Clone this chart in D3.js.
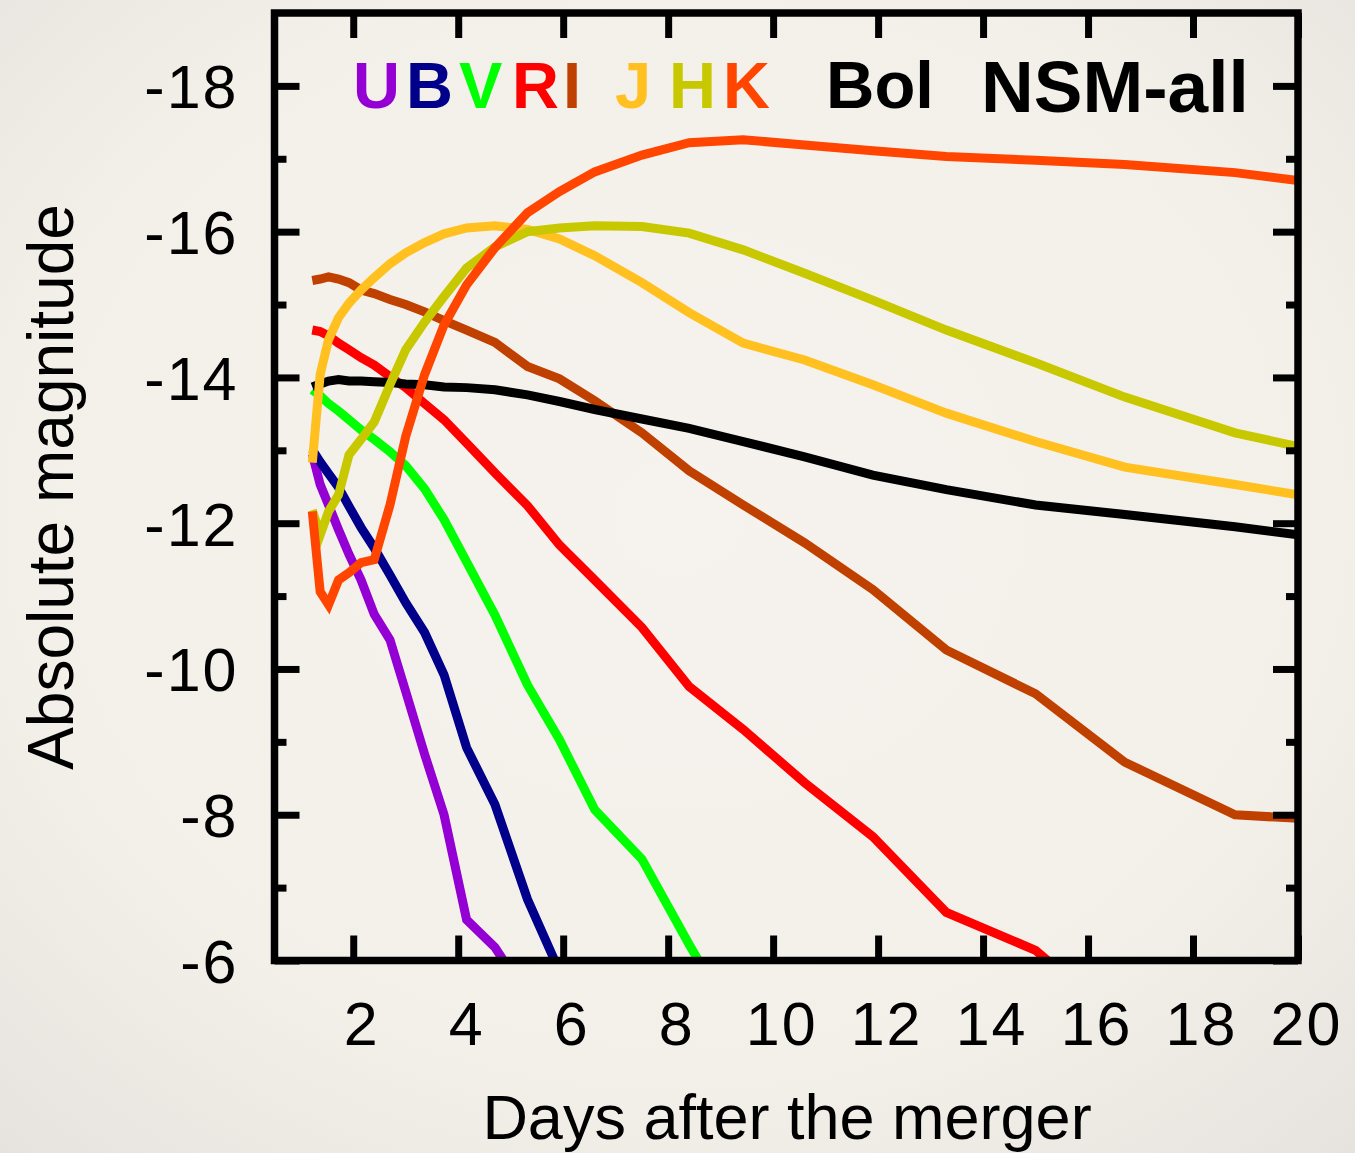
<!DOCTYPE html>
<html>
<head>
<meta charset="utf-8">
<script src="https://cdn.jsdelivr.net/npm/d3@7"></script>
<style>
  html, body { margin: 0; padding: 0; background: #f3f0ea; }
  svg { display: block; }
</style>
</head>
<body>
<svg id="chart" width="1355" height="1153"></svg>
<script>
// Epochs of the light-curve model (days after the merger)
const days = [1.22, 1.37, 1.53, 1.72, 1.92, 2.15, 2.4, 2.7, 3.0, 3.36, 3.73, 4.16, 4.7,
              5.32, 5.93, 6.6, 7.5, 8.4, 9.43, 10.6, 11.9, 13.3, 15.0, 16.7, 18.8, 20.0];

// Absolute magnitudes per band (one value per epoch, series stop once they fade out of range)
const magU = [-12.95, -12.53, -12.25, -11.91, -11.57, -11.22, -10.75, -10.40, -9.69, -8.83,
              -8.00, -6.56, -6.18, -5.50];
const magB = [-13.01, -12.84, -12.68, -12.49, -12.23, -11.94, -11.66, -11.29, -10.91, -10.50,
              -9.92, -8.92, -8.14, -6.84, -5.85];
const magV = [-13.83, -13.75, -13.64, -13.54, -13.42, -13.28, -13.15, -12.98, -12.79, -12.47,
              -12.05, -11.47, -10.74, -9.78, -9.03, -8.07, -7.39, -6.22, -4.95];
const magR = [-14.65, -14.63, -14.57, -14.47, -14.38, -14.27, -14.17, -14.01, -13.86, -13.64,
              -13.42, -13.10, -12.69, -12.24, -11.70, -11.22, -10.57, -9.76, -9.17, -8.44,
              -7.70, -6.66, -6.14, -5.10];
const magI = [-15.33, -15.35, -15.38, -15.35, -15.30, -15.20, -15.15, -15.07, -15.00, -14.90,
              -14.78, -14.65, -14.48, -14.15, -13.98, -13.68, -13.24, -12.72, -12.25, -11.73,
              -11.09, -10.26, -9.66, -8.72, -8.00, -7.95];
const magJ = [-12.83, -14.04, -14.52, -14.82, -15.02, -15.20, -15.37, -15.56, -15.71, -15.85,
              -15.97, -16.05, -16.08, -16.03, -15.90, -15.67, -15.30, -14.89, -14.47, -14.24,
              -13.90, -13.51, -13.12, -12.77, -12.53, -12.39];
const magH = [-12.18, -11.84, -12.16, -12.39, -12.94, -13.15, -13.39, -13.90, -14.38, -14.76,
              -15.11, -15.50, -15.79, -16.00, -16.05, -16.08, -16.07, -15.98, -15.75, -15.43,
              -15.06, -14.65, -14.20, -13.73, -13.24, -13.05];
const magK = [-12.16, -11.06, -10.88, -11.22, -11.32, -11.46, -11.50, -12.25, -13.19, -14.04,
              -14.72, -15.27, -15.78, -16.26, -16.55, -16.82, -17.05, -17.22, -17.26, -17.19,
              -17.11, -17.03, -16.98, -16.92, -16.81, -16.70];
const magBol = [-13.87, -13.91, -13.95, -13.97, -13.95, -13.95, -13.94, -13.93, -13.91, -13.90,
                -13.87, -13.86, -13.83, -13.76, -13.67, -13.56, -13.43, -13.30, -13.12, -12.91,
                -12.66, -12.46, -12.25, -12.12, -11.95, -11.84];

// Band names, legend labels and colours
const bandNames  = ["U", "B", "V", "R", "I", "J", "H", "K", "Bol"];
const bandColors = ["#9400D3", "#00008B", "#00FF00", "#FF0000", "#C04000",
                    "#FFC020", "#C8C800", "#FF4500", "#000000"];
const bandMags   = [magU, magB, magV, magR, magI, magJ, magH, magK, magBol];
const drawOrder  = ["U", "B", "V", "R", "I", "Bol", "J", "H", "K"];
const modelName  = "NSM-all";

// Axis ticks
const xTickValues = [2, 4, 6, 8, 10, 12, 14, 16, 18, 20];
const yTickValues = [-18, -16, -14, -12, -10, -8, -6];
const yMinorValues = [-17, -15, -13, -11, -9, -7];

// ---- layout ----
const FONT = "'Liberation Sans', Arial, Helvetica, sans-serif";
const plot = { left: 274.5, right: 1298, top: 13, bottom: 960.5 };

const svg = d3.select("#chart");

// paper background with a soft darkening towards the corners
const defs = svg.append("defs");
const grad = defs.append("radialGradient").attr("id", "paper")
  .attr("cx", "50%").attr("cy", "45%").attr("r", "75%");
grad.append("stop").attr("offset", "0%").attr("stop-color", "#f6f3ee");
grad.append("stop").attr("offset", "65%").attr("stop-color", "#f3f0ea");
grad.append("stop").attr("offset", "100%").attr("stop-color", "#e6e3de");
svg.append("rect").attr("width", 1355).attr("height", 1153).attr("fill", "url(#paper)");

defs.append("clipPath").attr("id", "plotClip")
  .append("rect")
  .attr("x", plot.left).attr("y", plot.top)
  .attr("width", plot.right - plot.left).attr("height", plot.bottom - plot.top);

const x = d3.scaleLinear().domain([0.5, 20]).range([plot.left, plot.right]);
const y = d3.scaleLinear().domain([-6, -19]).range([plot.bottom, plot.top]);

// ---- light curves ----
const line = d3.line()
  .x(d => x(d[0]))
  .y(d => y(d[1]));

const curves = svg.append("g").attr("clip-path", "url(#plotClip)");
drawOrder.forEach(name => {
  const i = bandNames.indexOf(name);
  const pts = bandMags[i].map((m, k) => [days[k], m]);
  curves.append("path")
    .datum(pts)
    .attr("d", line)
    .attr("fill", "none")
    .attr("stroke", bandColors[i])
    .attr("stroke-width", 9)
    .attr("stroke-linejoin", "miter")
    .attr("stroke-linecap", "butt");
});

// ---- axes ----
function styleAxis(g) {
  g.select(".domain").remove();
  g.selectAll(".tick line").attr("stroke", "#000").attr("stroke-width", 7);
  g.selectAll(".tick text")
    .attr("fill", "#000")
    .attr("font-family", FONT)
    .attr("font-size", 61)
    .attr("letter-spacing", 2);
}

// bottom: major ticks + labels
svg.append("g")
  .attr("transform", `translate(0,${plot.bottom})`)
  .call(d3.axisBottom(x).tickValues(xTickValues).tickSizeInner(-25).tickSizeOuter(0)
        .tickPadding(41).tickFormat(d3.format("d")))
  .call(styleAxis)
  .call(g => g.selectAll(".tick text").attr("dx", 8));

// top: major ticks only
svg.append("g")
  .attr("transform", `translate(0,${plot.top})`)
  .call(d3.axisTop(x).tickValues(xTickValues).tickSizeInner(-25).tickSizeOuter(0).tickFormat(""))
  .call(styleAxis);

// left: major ticks + labels, then minor ticks
svg.append("g")
  .attr("transform", `translate(${plot.left},0)`)
  .call(d3.axisLeft(y).tickValues(yTickValues).tickSizeInner(-25).tickSizeOuter(0)
        .tickPadding(36).tickFormat(d => d3.format("d")(d).replace("−", "-")))
  .call(styleAxis)
  .call(g => g.selectAll(".tick text").attr("dy", "0.36em"));

svg.append("g")
  .attr("transform", `translate(${plot.left},0)`)
  .call(d3.axisLeft(y).tickValues(yMinorValues).tickSizeInner(-12).tickSizeOuter(0).tickFormat(""))
  .call(styleAxis);

// right: major + minor ticks
svg.append("g")
  .attr("transform", `translate(${plot.right},0)`)
  .call(d3.axisRight(y).tickValues(yTickValues).tickSizeInner(-25).tickSizeOuter(0).tickFormat(""))
  .call(styleAxis);
svg.append("g")
  .attr("transform", `translate(${plot.right},0)`)
  .call(d3.axisRight(y).tickValues(yMinorValues).tickSizeInner(-12).tickSizeOuter(0).tickFormat(""))
  .call(styleAxis);

// frame
svg.append("rect")
  .attr("x", plot.left).attr("y", plot.top)
  .attr("width", plot.right - plot.left).attr("height", plot.bottom - plot.top)
  .attr("fill", "none").attr("stroke", "#000").attr("stroke-width", 7.5);

// axis titles
svg.append("text")
  .attr("x", 787).attr("y", 1139)
  .attr("text-anchor", "middle")
  .attr("font-family", FONT).attr("font-size", 63).attr("fill", "#000")
  .text("Days after the merger");

svg.append("text")
  .attr("transform", "translate(73,487) rotate(-90)")
  .attr("text-anchor", "middle")
  .attr("font-family", FONT).attr("font-size", 64).attr("fill", "#000")
  .text("Absolute magnitude");

// ---- legend: coloured band letters ----
const legendOrder = ["U", "B", "V", "R", "I", "J", "H", "K", "Bol"];
const legendX = [353, 406, 459, 512, 563, 615, 669, 723, 826];
const legend = svg.append("g")
  .attr("font-family", FONT).attr("font-weight", "bold");
legendOrder.forEach((name, k) => {
  const i = bandNames.indexOf(name);
  legend.append("text")
    .attr("x", legendX[k]).attr("y", 108)
    .attr("font-size", name === "Bol" ? 67 : 65)
    .attr("fill", bandColors[i])
    .text(name);
});
legend.append("text")
  .attr("x", 981).attr("y", 112)
  .attr("font-size", 73)
  .attr("fill", "#000")
  .text(modelName);
</script>
</body>
</html>
